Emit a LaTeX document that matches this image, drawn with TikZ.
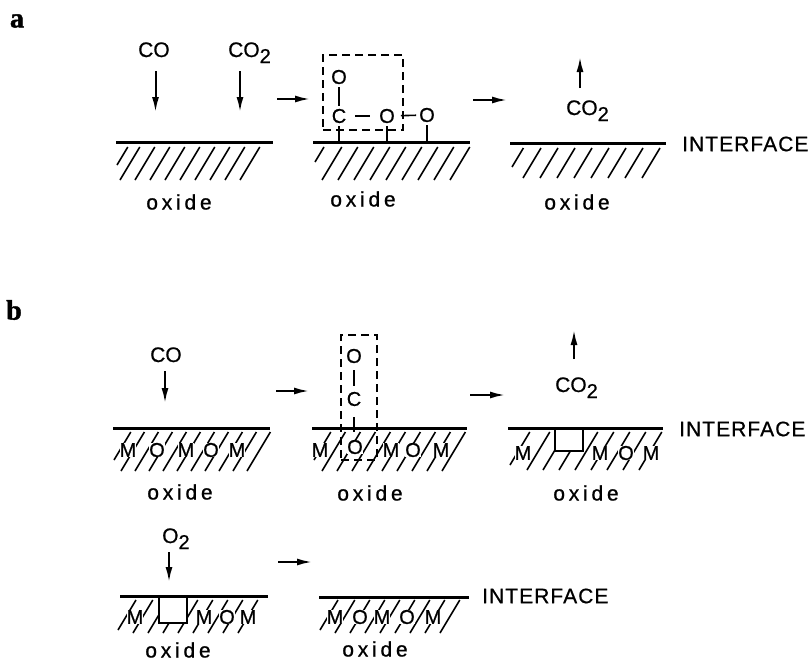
\documentclass[tikz,border=0pt]{standalone}
\usepackage{fontspec}
\usepackage{tikz}
\usetikzlibrary{
	arrows.meta
}
\setmainfont[FakeBold=0.7]{Liberation Sans}
\newfontfamily\widefont[LetterSpace=18,FakeBold=0.7]{Liberation Sans}
\newfontfamily\spacedfont[LetterSpace=5,FakeBold=0.7]{Liberation Sans}
\newfontfamily\labelfont[UprightFont=* Bold,FakeBold=1.5]{Liberation Serif}
\newcommand{\subtwo}{\raisebox{-6pt}[0pt][0pt]{\fontsize{20}{20}\selectfont 2}}

\begin{document}
\begin{tikzpicture}[x=1pt, y=-1pt,
		gas/.style={anchor=base west, inner sep=1pt, font=\fontsize{21}{23}\selectfont},
		atom/.style={inner sep=3pt, font=\fontsize{20}{22}\selectfont},
		metal/.style={fill=white, inner sep=0pt, font=\fontsize{20}{22}\selectfont},
		oxidelabel/.style={inner sep=0pt, font=\widefont\fontsize{21}{23}\selectfont},
		iflabel/.style={anchor=west, inner sep=0pt, font=\spacedfont\fontsize{21}{23}\selectfont},
		panel/.style={inner sep=0pt, font=\labelfont\fontsize{28}{30}\selectfont},
		flow/.style={-{Latex[length=15pt,width=7pt]}, line width=2pt},
		surface/.style={line width=3pt},
		hatchline/.style={line width=1.6pt},
		bond/.style={line width=1.6pt},
		dashbox/.style={draw, dashed, dash pattern=on 8pt off 5pt, line width=1.6pt, inner sep=0pt},
		vacancy/.style={draw, fill=white, line width=1.6pt, inner sep=0pt}
	]
		\useasboundingbox (0,0) rectangle (810,661);
		
		% hatching below each surface
		\foreach \xs/\yt/\yb in {
			{117}/147/165, {120,135,...,250}/147/180,
			{315}/147/162, {322,338,...,450}/147/180,
			{512}/148/167, {523,540,...,642}/148/178,
			{114}/432/460, {121,135,...,247}/432/471,
			{314}/432/460, {322,337,...,442}/432/471,
			{510}/432/465, {527,543,...,645}/432/470,
			{118}/600/630, {133,148,...,247}/600/633,
			{320}/600/630, {335,350,...,440}/600/633
		}{
			\foreach \x in \xs
				\draw[hatchline] (\x,\yb) -- ({\x+0.6*(\yb-\yt)},\yt);
		}
		
		\node[vacancy, minimum width=28pt, minimum height=23pt] (vacb) at (569,439.5) {};
		\node[vacancy, minimum width=28pt, minimum height=27pt] (vacc) at (173,609.5) {};
		
		% surfaces
		\coordinate (sa1) at (116,142);
		\coordinate (sa2) at (273,142);
		\coordinate (sa3) at (313,142);
		\coordinate (sa4) at (470,142);
		\coordinate (sa5) at (510,143);
		\coordinate (sa6) at (666,143);
		\coordinate (sb1) at (113,428);
		\coordinate (sb2) at (270,428);
		\coordinate (sb3) at (312,428);
		\coordinate (sb4) at (467,428);
		\coordinate (sb5) at (508,428);
		\coordinate (sb6) at (663,428);
		\coordinate (sc1) at (120,596);
		\coordinate (sc2) at (268,596);
		\coordinate (sc3) at (319,597);
		\coordinate (sc4) at (469,597);
		\foreach \p/\q in {sa1/sa2, sa3/sa4, sa5/sa6, sb1/sb2, sb3/sb4, sb5/sb6, sc1/sc2, sc3/sc4}
			\draw[surface] (\p) -- (\q);
		
		% metal and oxygen rows
		\foreach \x/\t in {128/M, 157/O, 186/M, 211/O, 237/M}
			\node[metal] (mb\x) at (\x,450) {\t};
		\foreach \x/\t in {320/M, 391/M, 413/O, 441/M}
			\node[metal] (mc\x) at (\x,450) {\t};
		\foreach \x/\t in {523/M, 600/M, 626/O, 651/M}
			\node[metal] (md\x) at (\x,453) {\t};
		\foreach \x/\t in {135/M, 204/M, 227/O, 248/M}
			\node[metal] (me\x) at (\x,617) {\t};
		\foreach \x/\t in {335/M, 360/O, 382/M, 407/O, 433/M}
			\node[metal] (mf\x) at (\x,617) {\t};
		
		% panel a
		\node[panel] (la) at (17,21) {a};
		\node[gas] (coa) at (137,57) {CO};
		\node[gas] (cotwoa) at (227,57) {CO\subtwo};
		\coordinate (tipa) at (155.5,112);
		\coordinate (tipb) at (240,112);
		\draw[flow, shorten <=13pt] (coa.south -| tipa) -- (tipa);
		\draw[flow, shorten <=13pt] (cotwoa.south -| tipb) -- (tipb);
		\coordinate (ra1) at (277,99);
		\coordinate (ra2) at (310,99);
		\draw[flow] (ra1) -- (ra2);
		
		\node[atom] (oa) at (339,77) {O};
		\node[atom] (ca) at (339,116) {C};
		\node[atom] (ob) at (387,116) {O};
		\node[atom] (oc) at (427,115) {O};
		\coordinate (stca) at (339,141);
		\coordinate (stob) at (387,141);
		\coordinate (stoc) at (427,141);
		\draw[bond] (oa) -- (ca);
		\draw[bond, shorten <=6pt, shorten >=6pt] (ca) -- (ob);
		\draw[bond, shorten <=3pt] (ob) -- (oc);
		\draw[bond] (ca) -- (stca);
		\draw[bond] (ob) -- (stob);
		\draw[bond] (oc) -- (stoc);
		\node[dashbox, minimum width=80pt, minimum height=75pt] (boxa) at (363,92.5) {};
		
		\coordinate (ra3) at (473,100);
		\coordinate (ra4) at (507,100);
		\draw[flow] (ra3) -- (ra4);
		\node[gas] (cotwob) at (565,115) {CO\subtwo};
		\coordinate (tipc) at (580,57);
		\draw[flow, shorten <=11pt] (cotwob.north -| tipc) -- (tipc);
		
		\node[oxidelabel] (oxa) at (179,202) {oxide};
		\node[oxidelabel] (oxb) at (363,199) {oxide};
		\node[oxidelabel] (oxc) at (577,202) {oxide};
		\node[iflabel] (ifa) at (682,144) {INTERFACE};
		
		% panel b
		\node[panel] (lb) at (14,310) {b};
		\node[gas] (cob) at (149,362) {CO};
		\coordinate (tipd) at (165,403);
		\draw[flow, shorten <=8pt] (cob.south -| tipd) -- (tipd);
		\coordinate (rb1) at (276,391);
		\coordinate (rb2) at (309,391);
		\draw[flow] (rb1) -- (rb2);
		
		\node[atom] (od) at (354,356) {O};
		\node[atom] (cb) at (354,399) {C};
		\node[metal] (oe) at (355,447) {O};
		\coordinate (stcb) at (354,432);
		\draw[bond, shorten <=4pt, shorten >=3pt] (od) -- (cb);
		\draw[bond, shorten <=8pt] (cb) -- (stcb);
		\node[dashbox, minimum width=36pt, minimum height=125pt] (boxb) at (359,397.5) {};
		
		\coordinate (rb3) at (470,395);
		\coordinate (rb4) at (505,395);
		\draw[flow] (rb3) -- (rb4);
		\node[gas] (cotwoc) at (554,392) {CO\subtwo};
		\coordinate (tipe) at (574,330);
		\draw[flow, shorten <=17pt] (cotwoc.north -| tipe) -- (tipe);
		
		\node[oxidelabel] (oxd) at (180,492) {oxide};
		\node[oxidelabel] (oxe) at (370,493) {oxide};
		\node[oxidelabel] (oxf) at (586,493) {oxide};
		\node[iflabel] (ifb) at (679,429) {INTERFACE};
		
		\node[gas] (otwo) at (161,543) {O\subtwo};
		\coordinate (tipf) at (169,582);
		\draw[flow, shorten <=8pt] (otwo.south -| tipf) -- (tipf);
		\coordinate (rc1) at (278,562);
		\coordinate (rc2) at (312,562);
		\draw[flow] (rc1) -- (rc2);
		
		\node[oxidelabel] (oxg) at (178,650) {oxide};
		\node[oxidelabel] (oxh) at (375,649) {oxide};
		\node[iflabel] (ifc) at (482,596) {INTERFACE};
	\end{tikzpicture}
\end{document}
